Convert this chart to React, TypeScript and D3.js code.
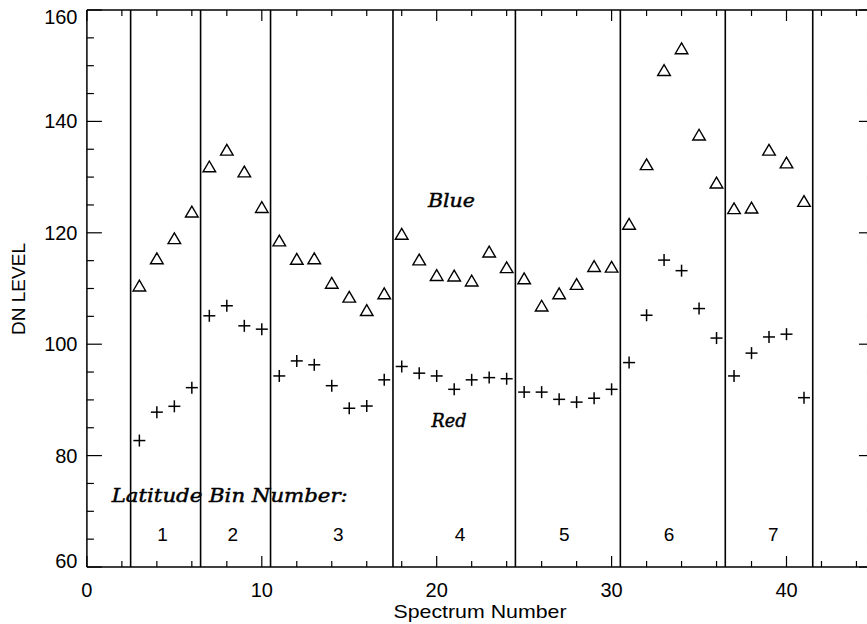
import React from "react";
import * as d3 from "d3";

const spectrum = [3,4,5,6,7,8,9,10,11,12,13,14,15,16,17,18,19,20,21,22,23,24,25,26,27,28,29,30,31,32,33,34,35,36,37,38,39,40,41];
const blue = [110.5,115.4,119.0,123.8,131.9,134.9,131.0,124.6,118.6,115.3,115.4,111.0,108.5,106.1,109.1,119.8,115.2,112.4,112.3,111.4,116.6,113.8,111.8,106.9,109.1,110.8,114.0,113.9,121.6,132.3,149.2,153.1,137.6,129.0,124.4,124.5,134.9,132.6,125.7];
const red = [82.7,87.8,88.85,92.2,105.1,106.9,103.3,102.7,94.3,97.0,96.3,92.55,88.5,88.9,93.6,96.0,94.8,94.3,91.9,93.6,94.0,93.8,91.4,91.4,90.1,89.6,90.3,91.9,96.7,105.2,115.1,113.2,106.4,101.1,94.3,98.4,101.3,101.8,90.4];
const binBoundaries = [2.5,6.5,10.5,17.5,24.5,30.5,36.5,41.5];
const binLabels = ["1","2","3","4","5","6","7"];
const binLabelPos = [4.33,8.34,14.37,21.33,27.3,33.28,39.24];
const xTickLabels = [0,10,20,30,40];
const yTickLabels = [60,80,100,120,140,160];

const W = 867, H = 624;

export default function App() {
  const x = d3.scaleLinear().domain([0, 45]).range([86.9, 86.9 + 45 * 17.49]);
  const y = d3.scaleLinear().domain([60, 160]).range([567, 10]);
  const x0 = x(0), x1 = x(45), y0 = y(60), y1 = y(160);
  const xMinor = d3.range(0, 46, 2);
  const yMinor = d3.range(60, 161, 5);
  const tickFont = "'Liberation Sans', Arial, sans-serif";
  const serif = "'DejaVu Serif', 'Liberation Serif', serif";
  const tri = (cx: number, cy: number) => `M${cx - 6.3},${cy + 5.3}L${cx},${cy - 5.5}L${cx + 6.3},${cy + 5.3}Z`;
  return (
    <svg width={W} height={H} style={{ position: "absolute", left: 0, top: 0, display: "block", background: "#fff" }}>
      <rect x={0} y={0} width={W} height={H} fill="#fff" />
      <g stroke="#000" strokeWidth={1.5} fill="none">
        <line x1={x0} y1={y0} x2={x1} y2={y0} />
        <line x1={x0} y1={y1} x2={x1} y2={y1} />
        <line x1={x0} y1={y0} x2={x0} y2={y1} />
        <line x1={x1} y1={y0} x2={x1} y2={y1} />
      </g>
      <g stroke="#000" strokeWidth={1.2}>
        {xMinor.map((v) => {
          const len = v % 10 === 0 ? 11 : 6;
          return (
            <g key={"xt" + v}>
              <line x1={x(v)} x2={x(v)} y1={y0} y2={y0 - len} />
              <line x1={x(v)} x2={x(v)} y1={y1} y2={y1 + len} />
            </g>
          );
        })}
        {yMinor.map((v) => {
          const len = v % 20 === 0 ? 15 : 7;
          return (
            <g key={"yt" + v}>
              <line x1={x0} x2={x0 + len} y1={y(v)} y2={y(v)} />
              <line x1={x1} x2={x1 - len} y1={y(v)} y2={y(v)} />
            </g>
          );
        })}
      </g>
      <g stroke="#000" strokeWidth={1.6}>
        {binBoundaries.map((b) => (
          <line key={"b" + b} x1={x(b)} x2={x(b)} y1={y0} y2={y1} />
        ))}
      </g>
      <g fontFamily={tickFont} fontSize={20} fill="#000">
        {xTickLabels.map((v) => (
          <text key={"xl" + v} x={x(v)} y={597} textAnchor="middle">{v}</text>
        ))}
        {yTickLabels.map((v) => (
          <text key={"yl" + v} x={77.5} y={Math.min(Math.max(y(v), 17), 561) + 7} textAnchor="end">{v}</text>
        ))}
      </g>
      <text x={480} y={618} textAnchor="middle" fontFamily={tickFont} fontSize={19} textLength={173} lengthAdjust="spacingAndGlyphs">Spectrum Number</text>
      <text transform={`translate(24.5,289) rotate(-90)`} textAnchor="middle" fontFamily={tickFont} fontSize={18} textLength={92} lengthAdjust="spacingAndGlyphs">DN LEVEL</text>
      <g fontFamily={serif} fontStyle="italic" fontSize={18} fill="#000" stroke="#000" strokeWidth={0.45}>
        <text x={x(1.42)} y={y(71.7)} textLength={236} lengthAdjust="spacingAndGlyphs">Latitude Bin Number:</text>
        <text x={x(19.5)} y={y(124.7)} textLength={47} lengthAdjust="spacingAndGlyphs">Blue</text>
        <text x={x(19.7)} y={y(85.2)} textLength={35} lengthAdjust="spacingAndGlyphs">Red</text>
      </g>
      <g fontFamily={tickFont} fontSize={19} fill="#000">
        {binLabels.map((l, i) => (
          <text key={"bl" + l} x={x(binLabelPos[i])} y={540.5} textAnchor="middle">{l}</text>
        ))}
      </g>
      <g stroke="#000" strokeWidth={1.4} fill="none">
        {spectrum.map((s, i) => (
          <path key={"tr" + s} d={tri(x(s), y(blue[i]))} />
        ))}
      </g>
      <g stroke="#000" strokeWidth={1.5}>
        {spectrum.map((s, i) => (
          <g key={"cr" + s}>
            <line x1={x(s) - 6} x2={x(s) + 6} y1={y(red[i])} y2={y(red[i])} />
            <line x1={x(s)} x2={x(s)} y1={y(red[i]) - 6} y2={y(red[i]) + 6} />
          </g>
        ))}
      </g>
    </svg>
  );
}
